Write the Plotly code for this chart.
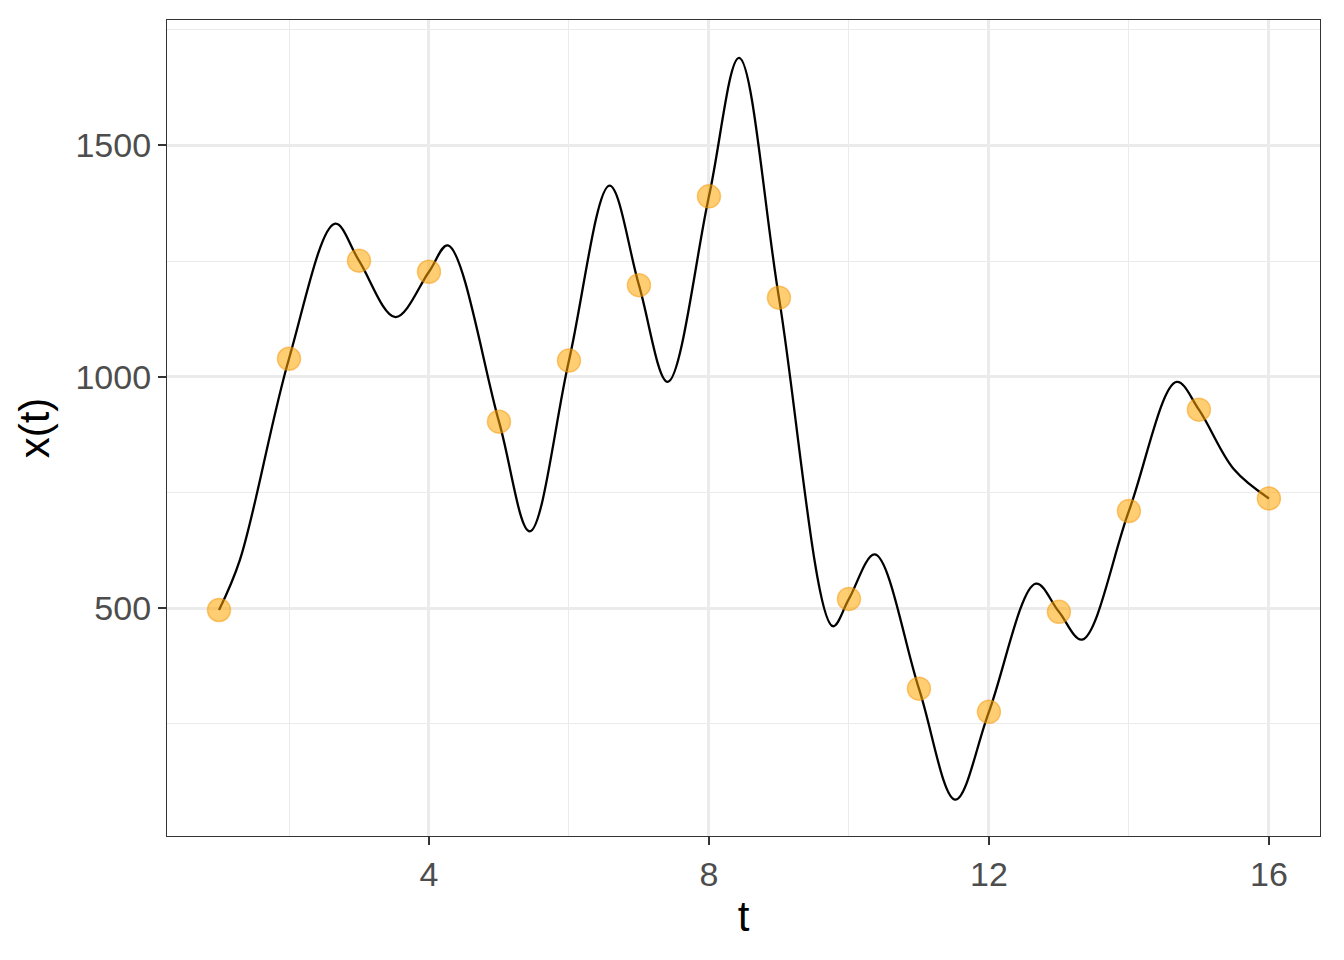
import plotly.graph_objects as go

# observed samples
obs_t = [1, 2, 3, 4, 5, 6, 7, 8, 9, 10, 11, 12, 13, 14, 15, 16]
obs_x = [496, 1039, 1251, 1227, 903, 1035, 1198, 1390, 1171, 520, 326, 276, 492, 710, 929, 737]

# smooth curve, values (data points, extrema and a few in between)
curve_t = [1.00, 1.30, 2.00, 2.66, 3.00, 3.52, 4.00, 4.27, 5.00,
           5.44, 6.00, 6.58, 7.00, 7.41, 8.00, 8.43,
           9.00, 9.77, 10.00, 10.37, 11.00,
           11.52, 12.00, 12.67, 13.00, 13.33, 14.00,
           14.68, 15.00, 15.50, 16.00]
curve_x = [496, 605, 1039, 1331, 1251, 1129, 1227, 1284, 903,
           666, 1035, 1413, 1198, 989, 1390, 1689,
           1171, 461, 520, 616, 326,
           86, 276, 553, 492, 432, 710,
           989, 929, 800, 737]

FONT = "Liberation Sans, Arial, sans-serif"

fig = go.Figure()
fig.add_trace(go.Scatter(
    x=curve_t, y=curve_x, mode="lines",
    line=dict(color="black", width=2.3, shape="spline", smoothing=1.0),
    hoverinfo="skip", showlegend=False))
fig.add_trace(go.Scatter(
    x=obs_t, y=obs_x, mode="markers",
    marker=dict(size=23, color="rgba(255,165,0,0.55)",
                line=dict(color="rgba(245,150,0,0.5)", width=1.5)),
    showlegend=False))

axis_common = dict(
    showline=True, linecolor="#333333", linewidth=1.3, mirror=True,
    ticks="outside", ticklen=8, tickwidth=2.2, tickcolor="#333333",
    tickfont=dict(family=FONT, size=34, color="#4D4D4D"),
    gridcolor="#EBEBEB", gridwidth=2.7, zeroline=False,
)

# page body has an 8px margin, so the margins are shifted to keep the panel in place
fig.update_layout(
    width=1344, height=960,
    margin=dict(l=159, r=32, t=12, b=132),
    paper_bgcolor="white", plot_bgcolor="white",
    font=dict(family=FONT),
    xaxis=dict(axis_common, range=[0.257, 16.73], tick0=0, dtick=4,
               minor=dict(dtick=2, showgrid=True, gridcolor="#EBEBEB", gridwidth=1.3),
               title=dict(text="t", font=dict(family=FONT, size=42, color="black"), standoff=9)),
    yaxis=dict(axis_common, range=[7.6, 1771], tick0=0, dtick=500,
               minor=dict(dtick=250, showgrid=True, gridcolor="#EBEBEB", gridwidth=1.3),
               title=dict(text="x(t)", font=dict(family=FONT, size=42, color="black"), standoff=12)),
)

fig.write_html("out.html")
